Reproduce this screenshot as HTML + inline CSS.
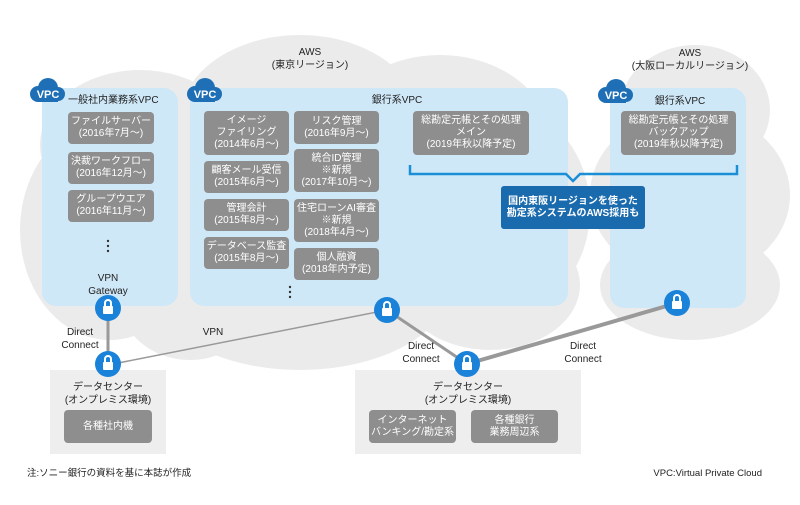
<!DOCTYPE html>
<html><head><meta charset="utf-8"><style>
*{margin:0;padding:0;box-sizing:border-box}
body{width:800px;height:505px;background:#fff;position:relative;overflow:hidden;font-family:"Liberation Sans","Noto Sans CJK JP",sans-serif;color:#222}
.a{position:absolute}
.c{position:absolute;background:#ebebeb;border-radius:50%}
.vpc{position:absolute;background:#cfe8f8;border-radius:14px}
.g{position:absolute;background:#8e8e8e;color:#fff;border-radius:4px;font-size:10px;line-height:12px;text-align:center;display:flex;align-items:center;justify-content:center}
.t{position:absolute;font-size:10px;line-height:13px;text-align:center;white-space:nowrap}
.dc{position:absolute;background:#eeeeee}
</style></head><body>
<!-- clouds -->
<div class="c" style="left:20px;top:120px;width:180px;height:220px"></div>
<div class="c" style="left:40px;top:70px;width:200px;height:150px"></div>
<div class="c" style="left:180px;top:35px;width:240px;height:170px"></div>
<div class="c" style="left:330px;top:55px;width:220px;height:170px"></div>
<div class="c" style="left:430px;top:110px;width:160px;height:200px"></div>
<div class="c" style="left:150px;top:200px;width:300px;height:170px"></div>
<div class="c" style="left:400px;top:220px;width:180px;height:130px"></div>
<div class="c" style="left:120px;top:240px;width:140px;height:120px"></div>
<div class="c" style="left:620px;top:45px;width:150px;height:130px"></div>
<div class="c" style="left:590px;top:110px;width:200px;height:170px"></div>
<div class="c" style="left:600px;top:230px;width:180px;height:110px"></div>
<!-- labels -->
<div class="t" style="left:260px;top:46px;width:100px">AWS<br>(東京リージョン)</div>
<div class="t" style="left:630px;top:47px;width:120px">AWS<br>(大阪ローカルリージョン)</div>
<!-- VPC boxes -->
<div class="vpc" style="left:42px;top:88px;width:136px;height:218px"></div>
<div class="vpc" style="left:190px;top:88px;width:378px;height:218px"></div>
<div class="vpc" style="left:610px;top:88px;width:136px;height:220px"></div>
<!-- badges -->
<svg class="a" style="left:0;top:0" width="800" height="505">
<g fill="#1e6fb5">
<g transform="translate(30,78)"><circle cx="8" cy="16" r="8"/><circle cx="18" cy="10" r="10"/><circle cx="28" cy="16" r="7"/><rect x="8" y="14" width="20" height="10"/></g>
<g transform="translate(187,78)"><circle cx="8" cy="16" r="8"/><circle cx="18" cy="10" r="10"/><circle cx="28" cy="16" r="7"/><rect x="8" y="14" width="20" height="10"/></g>
<g transform="translate(598,79)"><circle cx="8" cy="16" r="8"/><circle cx="18" cy="10" r="10"/><circle cx="28" cy="16" r="7"/><rect x="8" y="14" width="20" height="10"/></g>
</g>
<g fill="#fff" font-size="11" font-weight="bold" font-family="Liberation Sans,sans-serif" text-anchor="middle">
<text x="48" y="98">VPC</text><text x="205" y="98">VPC</text><text x="616" y="99">VPC</text>
</g>
<!-- bracket -->
<path d="M410,165 V174 H566 L573,181 L580,174 H737 V165" fill="none" stroke="#1a8fd6" stroke-width="2.5"/>
<!-- lines -->
<line x1="108" y1="307" x2="108" y2="365" stroke="#999" stroke-width="3"/>
<line x1="108" y1="365" x2="387" y2="310" stroke="#999" stroke-width="1.5"/>
<line x1="387" y1="310" x2="467" y2="364" stroke="#999" stroke-width="3"/>
<line x1="467" y1="364" x2="677" y2="303" stroke="#999" stroke-width="4"/>
<!-- dots -->
<g fill="#333"><circle cx="108" cy="241" r="1.2"/><circle cx="108" cy="246" r="1.2"/><circle cx="108" cy="251" r="1.2"/>
<circle cx="290" cy="287" r="1.2"/><circle cx="290" cy="292" r="1.2"/><circle cx="290" cy="297" r="1.2"/></g>
</svg>
<div class="t" style="left:68px;top:94px;text-align:left;font-size:10px">一般社内業務系VPC</div>
<div class="t" style="left:347px;top:94px;width:100px">銀行系VPC</div>
<div class="t" style="left:630px;top:95px;width:100px">銀行系VPC</div>
<!-- gray boxes -->
<div class="g" style="left:68px;top:112px;width:86px;height:32px">ファイルサーバー<br>(2016年7月〜)</div>
<div class="g" style="left:68px;top:152px;width:86px;height:32px">決裁ワークフロー<br>(2016年12月〜)</div>
<div class="g" style="left:68px;top:190px;width:86px;height:32px">グループウエア<br>(2016年11月〜)</div>
<div class="g" style="left:204px;top:111px;width:85px;height:44px">イメージ<br>ファイリング<br>(2014年6月〜)</div>
<div class="g" style="left:204px;top:161px;width:85px;height:32px">顧客メール受信<br>(2015年6月〜)</div>
<div class="g" style="left:204px;top:199px;width:85px;height:32px">管理会計<br>(2015年8月〜)</div>
<div class="g" style="left:204px;top:237px;width:85px;height:32px">データベース監査<br>(2015年8月〜)</div>
<div class="g" style="left:294px;top:111px;width:85px;height:33px">リスク管理<br>(2016年9月〜)</div>
<div class="g" style="left:294px;top:149px;width:85px;height:43px">統合ID管理<br>※新規<br>(2017年10月〜)</div>
<div class="g" style="left:294px;top:199px;width:85px;height:43px">住宅ローンAI審査<br>※新規<br>(2018年4月〜)</div>
<div class="g" style="left:294px;top:248px;width:85px;height:32px">個人融資<br>(2018年内予定)</div>
<div class="g" style="left:413px;top:111px;width:116px;height:44px">総勘定元帳とその処理<br>メイン<br>(2019年秋以降予定)</div>
<div class="g" style="left:621px;top:111px;width:115px;height:44px">総勘定元帳とその処理<br>バックアップ<br>(2019年秋以降予定)</div>
<div class="g" style="left:501px;top:186px;width:144px;height:43px;background:#1a6aae;font-weight:bold;border-radius:3px">国内東阪リージョンを使った<br>勘定系システムのAWS採用も</div>
<div class="t" style="left:68px;top:272px;width:80px">VPN<br>Gateway</div>
<!-- data centers -->
<div class="dc" style="left:50px;top:370px;width:116px;height:84px"></div>
<div class="dc" style="left:355px;top:370px;width:226px;height:84px"></div>
<div class="t" style="left:48px;top:381px;width:120px">データセンター<br>(オンプレミス環境)</div>
<div class="t" style="left:408px;top:381px;width:120px">データセンター<br>(オンプレミス環境)</div>
<div class="g" style="left:64px;top:410px;width:88px;height:33px">各種社内機</div>
<div class="g" style="left:369px;top:410px;width:87px;height:33px">インターネット<br>バンキング/勘定系</div>
<div class="g" style="left:471px;top:410px;width:87px;height:33px">各種銀行<br>業務周辺系</div>
<!-- locks -->
<svg class="a" style="left:0;top:0" width="800" height="505">
<defs><g id="lk"><circle r="13" fill="#1a82d8"/><rect x="-5" y="-2" width="10" height="8" fill="#fff" rx="1"/><path d="M-3,-2 V-5 A3,3 0 0 1 3,-5 V-2" fill="none" stroke="#fff" stroke-width="2"/></g></defs>
<use href="#lk" x="108" y="308"/><use href="#lk" x="108" y="364"/><use href="#lk" x="387" y="310"/><use href="#lk" x="467" y="364"/><use href="#lk" x="677" y="303"/>
</svg>
<div class="t" style="left:50px;top:326px;width:60px">Direct<br>Connect</div>
<div class="t" style="left:198px;top:326px;width:30px">VPN</div>
<div class="t" style="left:391px;top:340px;width:60px">Direct<br>Connect</div>
<div class="t" style="left:553px;top:340px;width:60px">Direct<br>Connect</div>
<div class="t" style="left:27px;top:467px;text-align:left;font-size:9.5px">注:ソニー銀行の資料を基に本誌が作成</div>
<div class="t" style="left:640px;top:467px;width:122px;text-align:right;font-size:9.5px">VPC:Virtual Private Cloud</div>
</body></html>
